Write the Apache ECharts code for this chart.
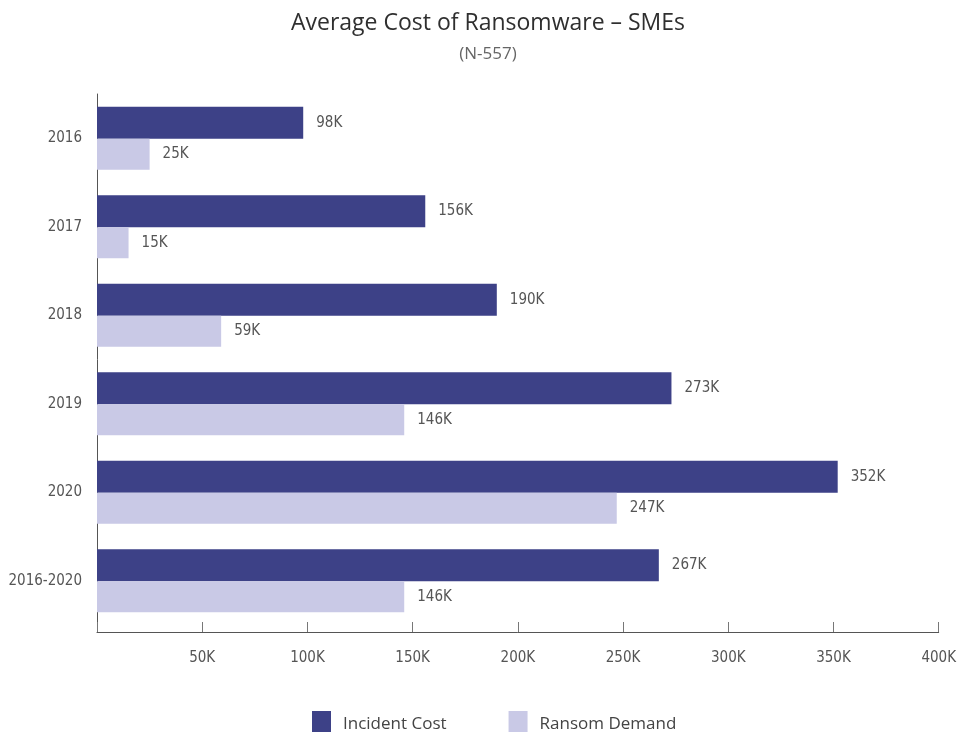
<!DOCTYPE html>
<html>
<head>
<meta charset="utf-8">
<script src="https://cdn.jsdelivr.net/npm/echarts@6/dist/echarts.min.js"></script>
<style>
  html, body { margin: 0; padding: 0; background: #ffffff; }
  #chart { width: 959px; height: 732px; }
</style>
</head>
<body>
<div id="chart"></div>
<script>
// Average ransomware cost for SMEs, in thousands of dollars
const years = ['2016', '2017', '2018', '2019', '2020', '2016-2020'];
const incidentCost = [98, 156, 190, 273, 352, 267];
const ransomDemand = [25, 15, 59, 146, 247, 146];
const xTicks = [50, 100, 150, 200, 250, 300, 350, 400];

const narrow = "'Liberation Sans Narrow', 'DejaVu Sans Condensed', sans-serif";
const chart = echarts.init(document.getElementById('chart'));

const labelStyle = {
  show: true,
  position: 'right',
  distance: 13,
  fontFamily: narrow,
  fontSize: 15,
  color: '#555555',
  formatter: p => p.value + 'K'
};

chart.setOption({
  animation: false,
  backgroundColor: '#ffffff',
  title: {
    text: 'Average Cost of Ransomware \u2013 SMEs',
    subtext: '(N-557)',
    left: 483,
    textAlign: 'center',
    top: 7,
    itemGap: 11,
    textStyle: { fontFamily: "'Open Sans', sans-serif", fontSize: 23, fontWeight: 'normal', color: '#2f2f2f' },
    subtextStyle: { fontFamily: "'Open Sans', sans-serif", fontSize: 17, color: '#666666' }
  },
  legend: {
    top: 706,
    left: 307,
    itemWidth: 19,
    itemHeight: 27,
    itemGap: 62,
    icon: 'rect',
    textStyle: { fontFamily: "'Open Sans', sans-serif", fontSize: 17, color: '#444444', padding: [10, 0, 0, 7] },
    data: ['Incident Cost', 'Ransom Demand']
  },
  grid: { left: 97, right: 16, top: 94, bottom: 107 },
  xAxis: {
    type: 'value',
    min: 0,
    max: 400,
    interval: 50,
    offset: 7,
    axisLine: { show: true, lineStyle: { color: '#555555', width: 1 } },
    axisTick: { show: true, inside: true, length: 10, lineStyle: { color: '#777777' } },
    splitLine: { show: false },
    axisLabel: {
      margin: 19,
      fontFamily: narrow,
      fontSize: 15,
      color: '#555555',
      formatter: v => xTicks.includes(v) ? v + 'K' : ''
    }
  },
  yAxis: {
    type: 'category',
    inverse: true,
    data: years,
    axisLine: { show: true, lineStyle: { color: '#555555', width: 1 } },
    axisTick: { show: false },
    axisLabel: { margin: 15, fontFamily: narrow, fontSize: 15, color: '#555555' }
  },
  series: [
    {
      name: 'Incident Cost',
      type: 'bar',
      data: incidentCost,
      barWidth: 32,
      barGap: '0%',
      itemStyle: { color: '#3d4187' },
      label: labelStyle
    },
    {
      name: 'Ransom Demand',
      type: 'bar',
      data: ransomDemand,
      barWidth: 31,
      itemStyle: { color: '#c9c9e6' },
      label: labelStyle
    }
  ]
});
</script>
</body>
</html>
